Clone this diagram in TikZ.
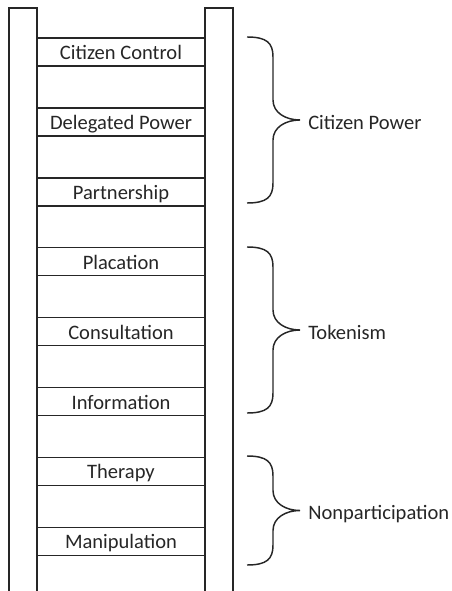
\documentclass[tikz,border=0pt]{standalone}
\usepackage{fontspec}
\setmainfont{Carlito}
\usepackage{tikz}

\tikzset{
  rail/.style={line width=1.1pt, draw=black!85},
  rung/.style={line width=1.1pt, draw=black!85},
  brace/.style={line width=1.1pt, draw=black!85},
  rungtext/.style={text=black!85, font=\fontsize{15.4}{18}\selectfont, anchor=base, inner sep=0pt},
  grouptext/.style={text=black!85, font=\fontsize{15.4}{18}\selectfont, anchor=base west, inner sep=0pt}
}

\begin{document}
\begin{tikzpicture}[x=0.75pt, y=-0.75pt]

\useasboundingbox (0,0) rectangle (451,591);

% the two rails
\draw[rail] (9,595) -- (9,8) -- (37,8) -- (37,595);
\draw[rail] (205,595) -- (205,8) -- (233,8) -- (233,595);

% rungs, top to bottom
\foreach \lab [count=\i from 0] in {Citizen Control, Delegated Power, Partnership,
    Placation, Consultation, Information, Therapy, Manipulation} {
  \draw[rung] (37,38+69.9*\i) -- (205,38+69.9*\i);
  \draw[rung] (37,66+69.9*\i) -- (205,66+69.9*\i);
  \node[rungtext] (r\i) at (121,59.5+69.9*\i) {\lab};
}

% braces
\foreach \top/\bot/\name/\lab in {37/203/cp/Citizen Power, 247/413/tk/Tokenism,
    456/565/np/Nonparticipation} {
  \pgfmathsetmacro{\mid}{(\top+\bot)/2}
  \coordinate (\name) at (300,\mid);
  \draw[brace] (247,\top) .. controls (267,\top) and (273,\top+6) .. (273,\top+20)
    -- (273,\mid-20) .. controls (273,\mid-7) and (286,\mid) .. (\name)
    .. controls (286,\mid) and (273,\mid+7) .. (273,\mid+20)
    -- (273,\bot-20) .. controls (273,\bot-6) and (267,\bot) .. (247,\bot);
  \node[grouptext] (\name-lab) at ([xshift=6, yshift=-7]\name) {\lab};
}

\end{tikzpicture}
\end{document}
